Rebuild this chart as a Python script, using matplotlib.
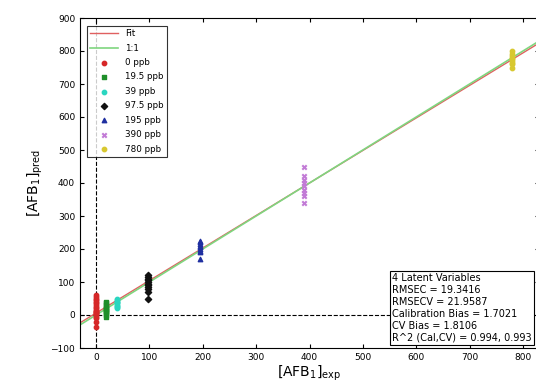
import numpy as np
import matplotlib.pyplot as plt

# concentrations (ppb) and predicted values
groups = ['0 ppb', '19.5 ppb', '39 ppb', '97.5 ppb', '195 ppb', '390 ppb', '780 ppb']
conc = [0, 19.5, 39, 97.5, 195, 390, 780]
pred_0 = [-35, -20, -10, -5, 0, 2, 5, 8, 10, 12, 15, 20, 25, 30, 35, 40, 45, 50, 55, 60]
pred_19 = [-5, 0, 5, 10, 12, 15, 18, 20, 25, 30, 35, 40]
pred_39 = [20, 25, 28, 30, 35, 38, 40, 45, 50]
pred_97 = [50, 70, 80, 85, 90, 95, 100, 105, 110, 115, 120]
pred_195 = [170, 190, 195, 200, 205, 210, 215, 220, 225]
pred_390 = [340, 360, 370, 380, 390, 400, 410, 420, 450]
pred_780 = [750, 760, 765, 770, 775, 780, 785, 790, 800]
preds = [pred_0, pred_19, pred_39, pred_97, pred_195, pred_390, pred_780]

colors = ['#d62728', '#1f8f2a', '#2ad6c0', '#111111', '#1f2fa0', '#c27bd6', '#d8c830']
markers = ['o', 's', 'o', 'D', '^', 'x', 'o']

stats_text = ("4 Latent Variables\nRMSEC = 19.3416\nRMSECV = 21.9587\n"
              "Calibration Bias = 1.7021\nCV Bias = 1.8106\nR^2 (Cal,CV) = 0.994, 0.993")

fig = plt.figure(figsize=(5.36, 3.85), dpi=100)
ax = fig.add_axes([80/536, 1 - 348/385, 459/536, 330/385])

xs = np.array([-30, 830])
slope, icpt = np.polyfit(np.repeat(conc, [len(p) for p in preds]), np.concatenate(preds), 1)
ax.plot(xs, slope*xs + icpt, color='#e06060', lw=1, label='Fit')
ax.plot(xs, xs, color='#7fd67f', lw=1.2, label='1:1')

for g, c, p, col, m in zip(groups, conc, preds, colors, markers):
    ax.scatter([c]*len(p), p, s=10, color=col, marker=m, label=g, zorder=3)

ax.axhline(0, color='k', ls='--', lw=0.8, zorder=1)
ax.axvline(0, color='k', ls='--', lw=0.8, zorder=1)

ax.set_xlim(-30, 830)
ax.set_ylim(-100, 900)
ax.set_xticks(range(0, 801, 100))
ax.set_yticks(range(-100, 901, 100))
ax.tick_params(direction='in', top=True, right=True, labelsize=6.5, length=3)
ax.set_xlabel(r'[AFB$_1$]$_{\rm exp}$', fontsize=10, labelpad=1)
ax.set_ylabel(r'[AFB$_1$]$_{\rm pred}$', fontsize=10)

leg = ax.legend(loc='upper left', fontsize=6.3, fancybox=False, edgecolor='k',
                handlelength=3.2, labelspacing=0.62, borderpad=0.4,
                bbox_to_anchor=(0.005, 0.99))
leg.get_frame().set_linewidth(0.8)

fig.text(392/536, 1 - 343/385, stats_text, fontsize=7, va='bottom', ha='left',
         linespacing=1.25,
         bbox=dict(boxstyle='square,pad=0.25', fc='white', ec='k', lw=0.8))

fig.savefig('out.png', dpi=100)
